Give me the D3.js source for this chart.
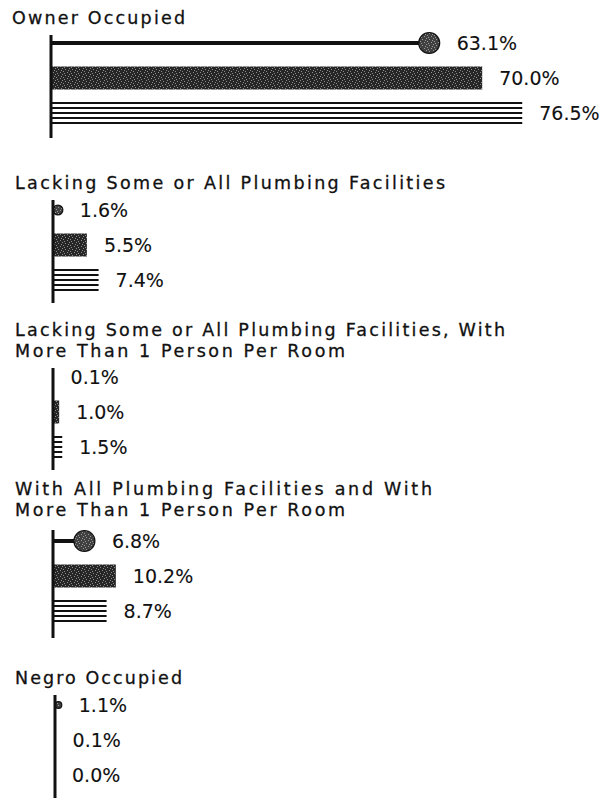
<!DOCTYPE html>
<html>
<head>
<meta charset="utf-8">
<script src="https://cdn.jsdelivr.net/npm/d3@7"></script>
<style>
body { margin: 0; background: #fff; }
text { font-family: "DejaVu Sans", sans-serif; fill: #111; stroke: #111; stroke-width: 0.3px; }
</style>
</head>
<body>
<svg id="chart" width="614" height="798"></svg>
<script>
"use strict";

var groupTitles = [
    ["Owner Occupied"],
    ["Lacking Some or All Plumbing Facilities"],
    ["Lacking Some or All Plumbing Facilities, With", "More Than 1 Person Per Room"],
    ["With All Plumbing Facilities and With", "More Than 1 Person Per Room"],
    ["Negro Occupied"]
];
var seriesNames = ["dot", "solid", "striped"];
var dotValues = [63.1, 1.6, 0.1, 6.8, 1.1];
var solidValues = [70.0, 5.5, 1.0, 10.2, 0.1];
var stripedValues = [76.5, 7.4, 1.5, 8.7, 0.0];

// where each block sits on the page
var layout = [
    { titleX: 12, titleY: 24, widths: [173], axisX: 51, axisTop: 35, axisBottom: 138, rowTop: 8 },
    { titleX: 15, titleY: 189, widths: [430], axisX: 53, axisTop: 200, axisBottom: 303, rowTop: 10 },
    { titleX: 15, titleY: 336, widths: [490, 330], axisX: 53, axisTop: 368, axisBottom: 470, rowTop: 9 },
    { titleX: 15, titleY: 495, widths: [417, 330], axisX: 53, axisTop: 530, axisBottom: 638, rowTop: 11 },
    { titleX: 15, titleY: 684, widths: [167], axisX: 55, axisTop: 695, axisBottom: 800, rowTop: 10 }
];

var svg = d3.select("#chart");
var x = d3.scaleLinear().domain([0, 100]).range([0, 616]);
var fmt = function (v) { return d3.format(".1f")(v) + "%"; };

// stippled fills, the scanned look of the dark bars
var defs = svg.append("defs");
function stipple(id, base, dots) {
    var p = defs.append("pattern").attr("id", id)
        .attr("patternUnits", "userSpaceOnUse")
        .attr("width", 7).attr("height", 6);
    p.append("rect").attr("width", 7).attr("height", 6).attr("fill", base);
    [[1, 1], [4, 0], [2, 3], [5, 4], [0, 5], [6, 2]].forEach(function (d) {
        p.append("rect").attr("x", d[0]).attr("y", d[1])
            .attr("width", 1).attr("height", 1).attr("fill", dots);
    });
}
stipple("stip-dark", "#262626", "#8c8c8c");
stipple("stip-dot", "#404040", "#9a9a9a");

var barH = 23, stripeCount = 5, stripeGap = 5, dotR = 10.5, lineStep = 20.5;

groupTitles.forEach(function (lines, gi) {
    var L = layout[gi];
    var g = svg.append("g").attr("class", "block");

    g.selectAll("text.title").data(lines).enter()
        .append("text").attr("class", "title")
        .attr("x", L.titleX)
        .attr("y", function (d, i) { return L.titleY + i * lineStep; })
        .attr("textLength", function (d, i) { return L.widths[i]; })
        .attr("lengthAdjust", "spacing")
        .style("font-size", "17.5px")
        .text(function (d) { return d; });

    var y = d3.scalePoint().domain(seriesNames)
        .range([L.axisTop + L.rowTop, L.axisTop + L.rowTop + 70]);
    var x0 = L.axisX;

    // dot series: line with a round end, right edge on the value
    var vd = dotValues[gi];
    var r = Math.min(dotR, x(vd) / 2);
    var cx = x0 + x(vd) - r;
    g.append("line")
        .attr("x1", x0).attr("x2", cx)
        .attr("y1", y("dot")).attr("y2", y("dot"))
        .attr("stroke", "#111").attr("stroke-width", 4);
    g.append("circle")
        .attr("cx", cx).attr("cy", y("dot")).attr("r", r)
        .attr("fill", "url(#stip-dot)")
        .attr("stroke", "#111").attr("stroke-width", r > 3 ? 1.2 : 0);

    // solid series
    g.append("rect")
        .attr("x", x0).attr("y", y("solid") - barH / 2)
        .attr("width", x(solidValues[gi])).attr("height", barH)
        .attr("fill", "url(#stip-dark)");

    // striped series
    var vs = stripedValues[gi];
    g.selectAll("line.stripe").data(d3.range(stripeCount)).enter()
        .append("line").attr("class", "stripe")
        .attr("x1", x0).attr("x2", x0 + x(vs))
        .attr("y1", function (k) { return y("striped") + (k - 2) * stripeGap; })
        .attr("y2", function (k) { return y("striped") + (k - 2) * stripeGap; })
        .attr("stroke", "#111").attr("stroke-width", vs > 0 ? 2 : 0);

    // value labels
    var vals = [vd, solidValues[gi], vs];
    g.selectAll("text.val").data(vals).enter()
        .append("text").attr("class", "val")
        .attr("x", function (v) { return x0 + x(v) + 17; })
        .attr("y", function (v, i) { return y(seriesNames[i]); })
        .attr("dy", "0.36em")
        .style("font-size", "19px")
        .style("stroke-width", "0.1px")
        .text(fmt);

    // the vertical axis of the block
    g.append("line")
        .attr("x1", x0).attr("x2", x0)
        .attr("y1", L.axisTop).attr("y2", L.axisBottom)
        .attr("stroke", "#111").attr("stroke-width", 3);
});
</script>
</body>
</html>
